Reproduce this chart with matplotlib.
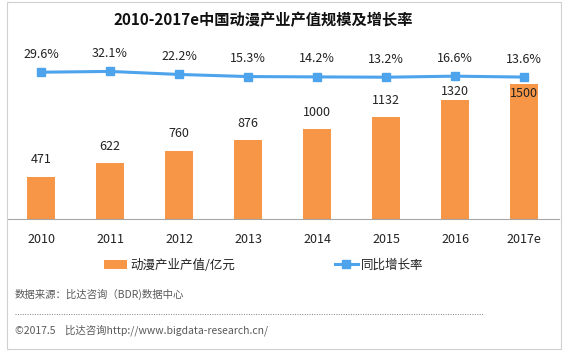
import matplotlib
matplotlib.use("Agg")
import matplotlib.pyplot as plt
from matplotlib.lines import Line2D
from matplotlib.patches import Rectangle

plt.rcParams['font.family'] = ['Noto Sans CJK SC', 'DejaVu Sans']

# --- data ---
years = ["2010", "2011", "2012", "2013", "2014", "2015", "2016", "2017e"]
output_value = [471, 622, 760, 876, 1000, 1132, 1320, 1500]   # 亿元
growth_rate = [29.6, 32.1, 22.2, 15.3, 14.2, 13.2, 16.6, 13.6]  # %

title = "2010-2017e中国动漫产业产值规模及增长率"
bar_label = "动漫产业产值/亿元"
line_label = "同比增长率"
source = "数据来源：比达咨询（BDR)数据中心"
copyright_txt = "©2017.5    比达咨询http://www.bigdata-research.cn/"

W, H = 563, 353
bar_color = "#F79646"
line_color = "#4DA3EC"

fig = plt.figure(figsize=(W / 100, H / 100), dpi=100)

# outer frame
fig.add_artist(Rectangle((7 / W, 1 - 349 / H), 554 / W, 347 / H,
                         transform=fig.transFigure, fill=False,
                         edgecolor="#D0D0D0", lw=0.8))

ax = fig.add_axes([6.5 / W, (H - 219) / H, 552 / W, 179 / H])
x = list(range(len(years)))
bars = ax.bar(x, output_value, width=0.41, color=bar_color, zorder=2)
ax.set_xlim(-0.5, 7.5)
ax.set_ylim(0, 1989)
ax.set_xticks(x)
ax.set_xticklabels(years, fontsize=9, color="#222222")
ax.tick_params(axis="x", length=0, pad=10)
ax.set_yticks([])
for s in ["left", "right", "top"]:
    ax.spines[s].set_visible(False)
ax.spines["bottom"].set_color("#A6A6A6")
ax.spines["bottom"].set_linewidth(0.8)

# value labels above bars (last two moved, as in the original)
offsets = {6: 9, 7: -9}
for i, v in enumerate(output_value):
    ax.annotate(str(v), (i, v), xytext=(0, offsets.get(i, 17)),
                textcoords="offset pixels", ha="center", va="center",
                fontsize=9, color="#222222", zorder=3)

ax2 = ax.twinx()
ax2.set_ylim(-451, 135)
ax2.set_yticks([])
for s in ["left", "right", "top", "bottom"]:
    ax2.spines[s].set_visible(False)
line, = ax2.plot(x, growth_rate, color=line_color, lw=2.2, marker="s",
                 markersize=6, markerfacecolor=line_color,
                 markeredgecolor=line_color)
for i, p in enumerate(growth_rate):
    ax2.annotate(f"{p}%", (i, p), xytext=(0, 18), textcoords="offset pixels",
                 ha="center", va="center", fontsize=9, color="#222222")

fig.text(263 / W, 1 - 20 / H, title, ha="center", va="center",
         fontsize=11, fontweight="bold", color="#111111")

fig.legend(handles=[bars, line], labels=[bar_label, line_label],
           loc="center left", bbox_to_anchor=(104 / W, 1 - 265 / H),
           ncol=2, frameon=False, fontsize=9, borderpad=0,
           borderaxespad=0, handlelength=1.8, handletextpad=0.3,
           columnspacing=8, labelcolor="#222222")

fig.text(15 / W, 1 - 294 / H, source, ha="left", va="center",
         fontsize=7.5, color="#595959")
fig.add_artist(Line2D([15 / W, 483 / W], [1 - 314 / H, 1 - 314 / H],
                      transform=fig.transFigure, ls=(0, (1, 1.5)),
                      color="#808080", lw=0.7))
fig.text(15 / W, 1 - 330 / H, copyright_txt, ha="left", va="center",
         fontsize=7.5, color="#595959")

fig.savefig("out.png", dpi=100)
